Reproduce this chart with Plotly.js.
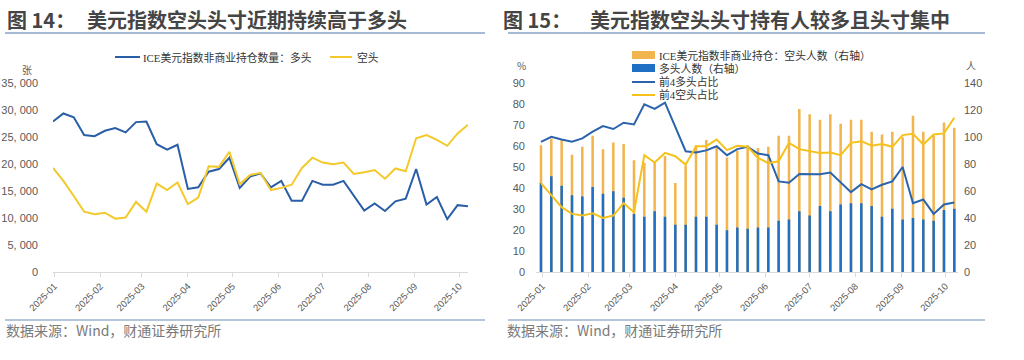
<!DOCTYPE html>
<html><head><meta charset="utf-8">
<script src="https://cdn.plot.ly/plotly-3.0.1.min.js"></script>
<style>html,body{margin:0;padding:0;background:#fff}#chart{width:1024px;height:360px}</style>
</head><body><div id="chart"></div>
<script>
// ---------- data ----------
const dates = ["2024-12-31","2025-01-07","2025-01-14","2025-01-21","2025-01-28","2025-02-04","2025-02-11","2025-02-18","2025-02-25","2025-03-04","2025-03-11","2025-03-18","2025-03-25","2025-04-01","2025-04-08","2025-04-15","2025-04-22","2025-04-29","2025-05-06","2025-05-13","2025-05-20","2025-05-27","2025-06-03","2025-06-10","2025-06-17","2025-06-24","2025-07-01","2025-07-08","2025-07-15","2025-07-22","2025-07-29","2025-08-05","2025-08-12","2025-08-19","2025-08-26","2025-09-02","2025-09-09","2025-09-16","2025-09-23","2025-09-30","2025-10-07"];

// Fig 14: ICE dollar index non-commercial positions (contracts)
const longPos  = [27900,29400,28700,25400,25200,26200,26700,25900,27800,27900,23700,22700,23600,15400,15700,18600,19100,21200,15600,17700,18300,15700,16900,13200,13200,16900,16200,16200,16900,14100,11400,12700,11300,13100,13600,19100,12500,13900,9800,12400,12200];
const shortPos = [19300,16900,14100,11200,10700,11000,9900,10100,13000,11200,16400,15200,16600,12600,13800,19600,19500,22300,16300,18000,18400,15200,15600,16200,19300,21200,20300,20000,20300,18200,18500,18900,17300,19200,18700,24800,25400,24500,23400,25700,27300];

// Fig 15: number of traders (right axis) and top-4 concentration (%)
const shortTraders = [94,99,98,87,93,101,91,96,95,83,81,81,86,66,79,94,98,93,85,90,94,92,93,101,101,121,117,113,117,110,113,113,104,102,104,100,116,104,101,111,107];
const longTraders  = [66,71,64,57,56,63,58,60,55,43,41,45,41,35,35,41,41,35,31,33,32,33,33,38,39,45,42,49,45,50,51,51,49,41,47,39,40,39,38,46,47];
const top4Long  = [62.1,64.5,63.2,62.1,63.7,66.9,69.6,68.2,71.2,70.4,80.0,77.8,80.8,69.3,57.6,57.0,58.0,60.0,55.7,58.6,59.7,56.5,55.7,43.2,42.6,46.7,46.6,46.6,47.4,42.6,38.1,41.9,39.4,41.6,43.2,50.1,32.8,34.6,27.7,32.2,33.1];
const top4Short = [42.4,36.5,30.9,27.7,26.9,28.0,25.8,26.9,32.8,28.5,55.7,52.2,56.8,55.2,51.2,60.0,60.0,63.2,58.1,60.2,59.7,54.4,51.9,52.8,61.6,58.6,57.6,56.8,57.0,55.7,61.6,62.4,60.2,61.0,59.7,65.3,65.9,60.8,65.6,66.1,73.6];

// tick labels
const leftTickVals  = [0,5000,10000,15000,20000,25000,30000,35000];
const leftTickText  = ["0","5, 000","10, 000","15, 000","20, 000","25, 000","30, 000","35, 000"];

// text
const title14num = "图 14：";
const title14 = "美元指数空头头寸近期持续高于多头";
const title15num = "图 15：";
const title15 = "美元指数空头头寸持有人较多且头寸集中";
const legLong14 = "ICE美元指数非商业持仓数量：多头";
const legShort14 = "空头";
const legShortTr = "ICE美元指数非商业持仓：空头人数（右轴）";
const legLongTr = "多头人数（右轴）";
const legTop4Long = "前4多头占比";
const legTop4Short = "前4空头占比";
const source = "数据来源：Wind，财通证券研究所";

// ---------- styling ----------
const W = 1024, H = 360;
const X = p => p / W, Y = p => 1 - p / H;
const cBlueL = "#2a5ea6", cYellowL = "#f3c92b";
const cOrange = "#f2b44c", cBlueBar = "#1f6fc4", cBlueLine = "#2b64ad", cYellowLine = "#f5c21c";
const tickFont = {family: "Liberation Sans, Arial, sans-serif", size: 11, color: "#595959"};
const xTickFont = {family: "Liberation Sans, Arial, sans-serif", size: 9.5, color: "#595959"};
const legFont = {family: "Liberation Serif, Noto Sans CJK SC, serif", size: 10.8, color: "#333"};
const DAY = 86400000;

const traces = [
  {x: dates, y: longPos, type: "scatter", mode: "lines", line: {color: cBlueL, width: 2}, xaxis: "x", yaxis: "y", name: legLong14},
  {x: dates, y: shortPos, type: "scatter", mode: "lines", line: {color: cYellowL, width: 2}, xaxis: "x", yaxis: "y", name: legShort14},
  {x: dates, y: shortTraders, type: "bar", marker: {color: cOrange}, width: 1.7 * DAY, xaxis: "x2", yaxis: "y2", name: legShortTr},
  {x: dates, y: longTraders, type: "bar", marker: {color: cBlueBar}, width: 1.7 * DAY, xaxis: "x2", yaxis: "y2", name: legLongTr},
  {x: dates, y: top4Long, type: "scatter", mode: "lines", line: {color: cBlueLine, width: 2}, xaxis: "x2", yaxis: "y3", name: legTop4Long},
  {x: dates, y: top4Short, type: "scatter", mode: "lines", line: {color: cYellowLine, width: 2}, xaxis: "x2", yaxis: "y3", name: legTop4Short}
];

const xCommon = {
  type: "date", tickformat: "%Y-%m", dtick: "M1", tick0: "2025-01-01", tickangle: -45,
  showgrid: false, zeroline: false, showline: true, linecolor: "#d9d9d9", linewidth: 1,
  ticks: "outside", ticklen: 4, tickcolor: "#d9d9d9", tickfont: xTickFont, fixedrange: true
};
const yDomain = [Y(272), Y(83.3)];

const layout = {
  width: W, height: H, margin: {l: 0, r: 0, t: 0, b: 0},
  paper_bgcolor: "#fff", plot_bgcolor: "rgba(0,0,0,0)",
  showlegend: false, barmode: "overlay",
  xaxis: Object.assign({}, xCommon, {domain: [X(53), X(468)], range: ["2024-12-31", "2025-10-07"], anchor: "y"}),
  yaxis: {domain: yDomain, range: [0, 35000], tickvals: leftTickVals, ticktext: leftTickText, showgrid: false, zeroline: false, showline: false, ticks: "", tickfont: tickFont, ticklabelstandoff: 14, anchor: "x", fixedrange: true},
  xaxis2: Object.assign({}, xCommon, {domain: [X(536), X(958)], range: ["2024-12-27 15:00", "2025-10-09 12:00"], anchor: "y2"}),
  yaxis2: {domain: yDomain, range: [0, 140], dtick: 20, side: "right", anchor: "x2", showgrid: false, zeroline: false, showline: false, ticks: "", tickfont: tickFont, ticklabelstandoff: 5, fixedrange: true},
  yaxis3: {range: [0, 90], dtick: 10, side: "left", overlaying: "y2", anchor: "x2", showgrid: false, zeroline: false, showline: false, ticks: "", tickfont: tickFont, ticklabelstandoff: 10, fixedrange: true},
  shapes: [],
  annotations: []
};

function hline(x0, x1, y, color, width) {
  layout.shapes.push({type: "line", xref: "paper", yref: "paper", x0: X(x0), x1: X(x1), y0: Y(y), y1: Y(y), line: {color: color, width: width}});
}
function rect(x0, x1, y0, y1, color) {
  layout.shapes.push({type: "rect", xref: "paper", yref: "paper", x0: X(x0), x1: X(x1), y0: Y(y1), y1: Y(y0), fillcolor: color, line: {width: 0}});
}
function text(t, x, y, font, anchor) {
  layout.annotations.push({text: t, xref: "paper", yref: "paper", x: X(x), y: Y(y), xanchor: anchor || "left", yanchor: "middle", showarrow: false, font: font});
}

// header / footer rules
hline(5, 485, 33, "#86a3c6", 1.5);
hline(508, 985, 33, "#86a3c6", 1.5);
hline(5, 485, 320, "#9db3cf", 1.5);
hline(508, 985, 320, "#9db3cf", 1.5);

// titles
const titleFont = {family: "Noto Sans CJK SC, sans-serif", size: 20, color: "#454545", weight: 700};
text("<b>" + title14num + "</b>", 5, 19, titleFont);
text("<b>" + title14 + "</b>", 85, 19, titleFont);
text("<b>" + title15num + "</b>", 501, 19, titleFont);
text("<b>" + title15 + "</b>", 588, 19, titleFont);

// sources
const srcFont = {family: "Noto Sans CJK SC, sans-serif", size: 14, color: "#7a7a7a"};
text(source, 4, 330, srcFont);
text(source, 505, 330, srcFont);

// units
const unitFont = {family: "Noto Sans CJK SC, sans-serif", size: 10, color: "#595959"};
text("张", 26.5, 70, unitFont, "center");
text("%", 521, 65, unitFont, "center");
text("人", 971, 65, unitFont, "center");

// legend fig 14
hline(115, 140, 57, cBlueL, 2);
text(legLong14, 141, 57, legFont);
hline(330, 352, 57, cYellowL, 2);
text(legShort14, 355, 57, legFont);

// legend fig 15
rect(632, 655, 51, 59, cOrange);
text(legShortTr, 657, 55, legFont);
rect(632, 655, 64, 72, cBlueBar);
text(legLongTr, 657, 68, legFont);
hline(632, 655, 82, cBlueLine, 2);
text(legTop4Long, 657, 82, legFont);
hline(632, 655, 95, cYellowLine, 2);
text(legTop4Short, 657, 95, legFont);

Plotly.newPlot("chart", traces, layout, {displayModeBar: false, staticPlot: true});
</script></body></html>
